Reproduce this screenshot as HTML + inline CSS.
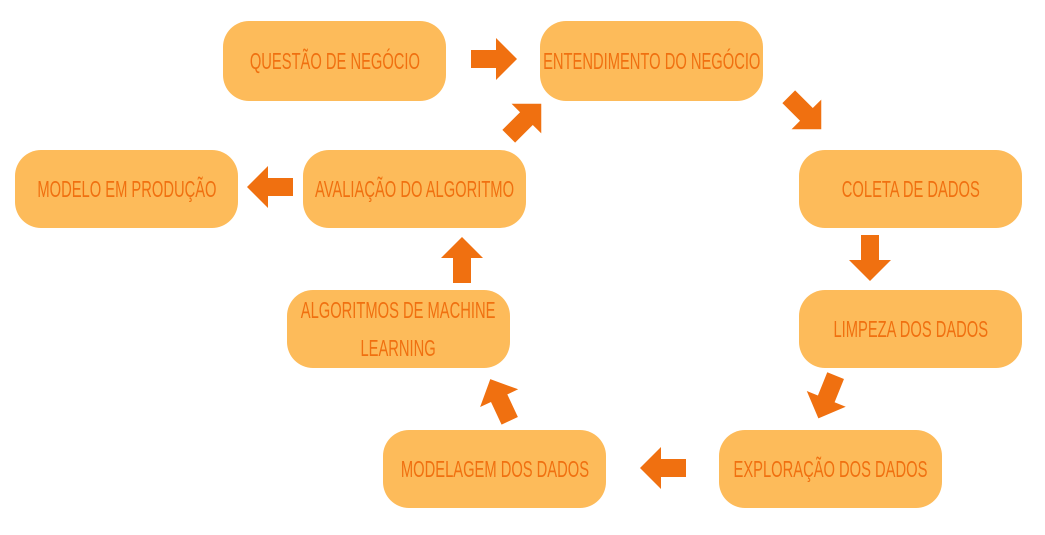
<!DOCTYPE html>
<html><head><meta charset="utf-8"><style>
body{margin:0;width:1045px;height:535px;background:#fff;position:relative;overflow:hidden}
.b{position:absolute;width:223px;height:78px;background:#fdbb5a;border-radius:26px;display:flex;align-items:center;justify-content:center;text-align:center}
.b span{display:inline-block;font-family:"Liberation Sans",sans-serif;font-size:23px;color:#f07010;transform:scaleX(0.64);white-space:nowrap;line-height:38px}
svg{position:absolute;left:0;top:0}
</style></head><body>
<div class="b" style="left:223px;top:21px;height:80px"><span>QUESTÃO DE NEGÓCIO</span></div>
<div class="b" style="left:540px;top:21px;height:80px"><span>ENTENDIMENTO DO NEGÓCIO</span></div>
<div class="b" style="left:799px;top:150px"><span>COLETA DE DADOS</span></div>
<div class="b" style="left:799px;top:290px"><span>LIMPEZA DOS DADOS</span></div>
<div class="b" style="left:719px;top:430px"><span>EXPLORAÇÃO DOS DADOS</span></div>
<div class="b" style="left:383px;top:430px"><span>MODELAGEM DOS DADOS</span></div>
<div class="b" style="left:287px;top:290px"><span>ALGORITMOS DE MACHINE<br>LEARNING</span></div>
<div class="b" style="left:303px;top:150px"><span>AVALIAÇÃO DO ALGORITMO</span></div>
<div class="b" style="left:15px;top:150px"><span>MODELO EM PRODUÇÃO</span></div>
<svg width="1045" height="535">
<defs><path id="a" d="M-23,-9 H2 V-21 L23,0 L2,21 V9 H-23 Z" fill="#f07010"/></defs>
<use href="#a" transform="translate(494,59)"/>
<use href="#a" transform="translate(805,113) rotate(45)"/>
<use href="#a" transform="translate(870,258) rotate(90)"/>
<use href="#a" transform="translate(827,397) rotate(112)"/>
<use href="#a" transform="translate(663,468) rotate(180)"/>
<use href="#a" transform="translate(500,400) rotate(-115)"/>
<use href="#a" transform="translate(462,260) rotate(-90)"/>
<use href="#a" transform="translate(525,120) rotate(-45)"/>
<use href="#a" transform="translate(270,187) rotate(180)"/>
</svg>
</body></html>
